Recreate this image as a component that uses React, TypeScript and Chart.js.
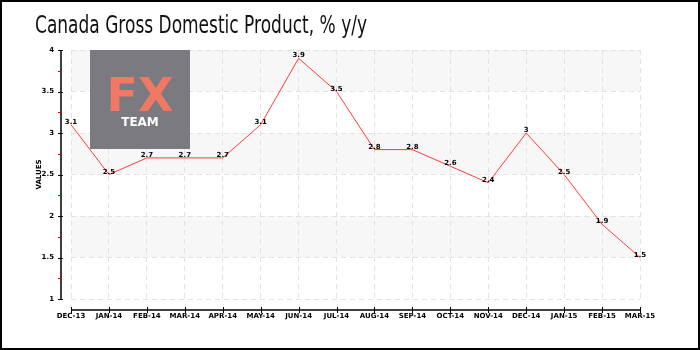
import React, { useEffect, useRef } from "react";
import { Chart, registerables } from "chart.js";

Chart.register(...registerables);

const TITLE = "Canada Gross Domestic Product, % y/y";
const Y_TITLE = "VALUES";
const categories = [
  "DEC-13", "JAN-14", "FEB-14", "MAR-14", "APR-14", "MAY-14", "JUN-14", "JUL-14",
  "AUG-14", "SEP-14", "OCT-14", "NOV-14", "DEC-14", "JAN-15", "FEB-15", "MAR-15",
];
const values = [3.1, 2.5, 2.7, 2.7, 2.7, 3.1, 3.9, 3.5, 2.8, 2.8, 2.6, 2.4, 3.0, 2.5, 1.9, 1.5];
const yMin = 1;
const yMax = 4;
const yStep = 0.5;
const bandRanges = [[1.5, 2], [2.5, 3], [3.5, 4]];
const minorTicks = [1.25, 1.75, 2.25, 2.75, 3.25, 3.75];
const LOGO_BIG = "FX";
const LOGO_SMALL = "TEAM";

const TICK_FONT = "DejaVu Sans";

const decorPlugin = {
  id: "decor",
  beforeDraw(chart: any) {
    const { ctx, chartArea, scales } = chart;
    const y = scales.y;
    ctx.save();
    ctx.fillStyle = "#ffffff";
    ctx.fillRect(0, 0, chart.width, chart.height);
    ctx.fillStyle = "#f7f7f7";
    for (const [a, b] of bandRanges) {
      const y1 = y.getPixelForValue(b);
      const y2 = y.getPixelForValue(a);
      ctx.fillRect(chartArea.left, y1, chartArea.right - chartArea.left, y2 - y1);
    }
    ctx.restore();
  },
  beforeDatasetsDraw(chart: any) {
    const { ctx, scales } = chart;
    const x = scales.x;
    const y = scales.y;
    const left = x.getPixelForValue(0) + 19;
    const top = y.getPixelForValue(4);
    const w = 100;
    const h = 99;
    ctx.save();
    ctx.fillStyle = "#7a7a80";
    ctx.fillRect(left, top, w, h);
    ctx.fillStyle = "#f07865";
    ctx.textAlign = "center";
    ctx.textBaseline = "alphabetic";
    ctx.font = "bold 46px 'DejaVu Sans'";
    ctx.fillText(LOGO_BIG, left + w / 2, top + 61);
    ctx.fillStyle = "#ffffff";
    ctx.font = "bold 12px 'DejaVu Sans'";
    ctx.fillText(LOGO_SMALL, left + w / 2, top + 76);
    ctx.restore();
  },
  afterDraw(chart: any) {
    const { ctx, chartArea, scales } = chart;
    const x = scales.x;
    const y = scales.y;
    ctx.save();
    // axes
    ctx.strokeStyle = "#000";
    ctx.lineWidth = 1.5;
    const ax = chartArea.left - 10;
    const ay = chartArea.bottom + 11;
    ctx.beginPath();
    ctx.moveTo(ax, chartArea.top);
    ctx.lineTo(ax, chartArea.bottom);
    ctx.moveTo(chartArea.left, ay);
    ctx.lineTo(chartArea.right, ay);
    ctx.stroke();
    ctx.lineWidth = 1;
    ctx.beginPath();
    for (let v = yMin; v <= yMax + 1e-9; v += yStep) {
      const py = Math.round(y.getPixelForValue(v)) + 0.5;
      ctx.moveTo(ax - 3, py);
      ctx.lineTo(ax + 2, py);
    }
    for (let i = 0; i < categories.length; i++) {
      const px = Math.round(x.getPixelForValue(i)) + 0.5;
      ctx.moveTo(px, ay - 3);
      ctx.lineTo(px, ay + 3);
    }
    ctx.stroke();
    ctx.strokeStyle = "#e00000";
    ctx.beginPath();
    for (const v of minorTicks) {
      const py = Math.round(y.getPixelForValue(v)) + 0.5;
      ctx.moveTo(ax - 3, py);
      ctx.lineTo(ax, py);
    }
    ctx.stroke();
    // data labels
    ctx.fillStyle = "#000";
    ctx.font = `bold 7px '${TICK_FONT}'`;
    ctx.textAlign = "center";
    ctx.textBaseline = "alphabetic";
    values.forEach((v, i) => {
      ctx.fillText(String(v), x.getPixelForValue(i), y.getPixelForValue(v) - 1);
    });
    // title (condensed to match width)
    ctx.font = "24px 'DejaVu Sans'";
    ctx.textAlign = "left";
    const tw = ctx.measureText(TITLE).width;
    const sx = 332 / tw;
    ctx.save();
    ctx.translate(35, 33);
    ctx.scale(sx, 1);
    ctx.fillStyle = "#111";
    ctx.fillText(TITLE, 0, 0);
    ctx.restore();
    // border
    ctx.strokeStyle = "#000";
    ctx.lineWidth = 2;
    ctx.strokeRect(1, 1, chart.width - 2, chart.height - 2);
    ctx.restore();
  },
};

export default function App() {
  const ref = useRef<HTMLCanvasElement>(null);
  useEffect(() => {
    document.body.style.margin = "0";
    const chart = new Chart(ref.current!, {
      type: "line",
      data: {
        labels: categories,
        datasets: [
          {
            data: values,
            borderColor: "#ff3b3b",
            borderWidth: 1,
            pointRadius: 0,
            tension: 0,
            fill: false,
          },
        ],
      },
      options: {
        responsive: false,
        animation: false,
        layout: { padding: { top: 50, right: 60, bottom: 0, left: 30 } },
        plugins: { legend: { display: false }, title: { display: false }, tooltip: { enabled: false } },
        scales: {
          x: {
            offset: false,
            grid: { color: "#e2e2e2", drawTicks: false },
            border: { display: false, dash: [5, 4] },
            ticks: {
              color: "#000",
              font: { family: TICK_FONT, size: 7, weight: "bold" },
              autoSkip: false,
              maxRotation: 0,
              padding: 13,
            },
            afterFit: (s: any) => {
              s.height = 51;
            },
          },
          y: {
            min: yMin,
            max: yMax,
            grid: { color: "#e2e2e2", drawTicks: false },
            border: { display: false, dash: [5, 4] },
            ticks: {
              stepSize: yStep,
              color: "#000",
              font: { family: TICK_FONT, size: 7, weight: "bold" },
              padding: 17,
              callback: (v: any) => String(v),
            },
            title: {
              display: true,
              text: Y_TITLE,
              color: "#000",
              font: { family: TICK_FONT, size: 7, weight: "bold" },
              padding: { top: 5, bottom: 0 },
            },
            afterFit: (s: any) => {
              s.width = 41;
            },
          },
        },
      },
      plugins: [decorPlugin],
    });
    return () => chart.destroy();
  }, []);
  return (
    <div style={{ width: 700, height: 350 }}>
      <canvas ref={ref} width={700} height={350} />
    </div>
  );
}
